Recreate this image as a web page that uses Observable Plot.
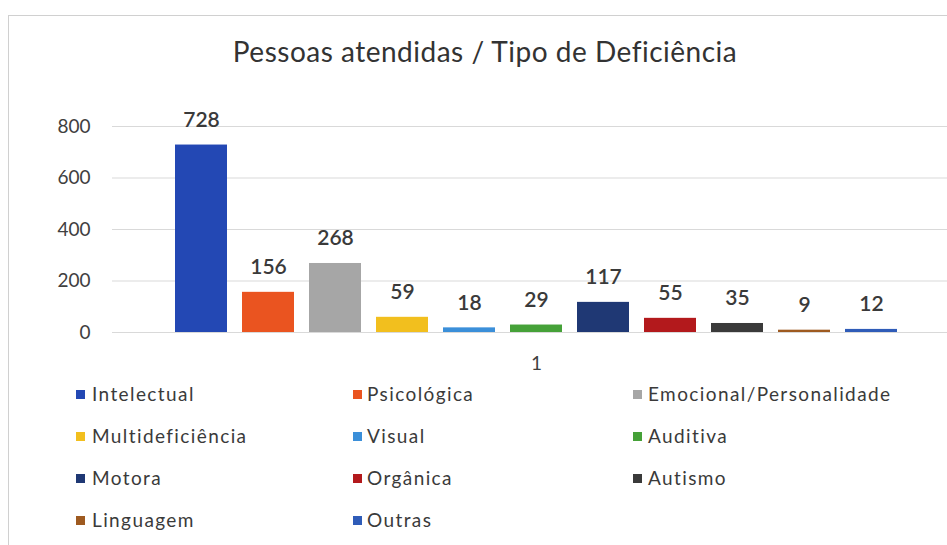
<!DOCTYPE html>
<html>
<head>
<meta charset="utf-8">
<script src="https://cdn.jsdelivr.net/npm/d3@7"></script>
<script src="https://cdn.jsdelivr.net/npm/@observablehq/plot@0.6"></script>
<style>
  html, body { margin: 0; padding: 0; background: #fff; }
  body { width: 947px; height: 545px; position: relative; overflow: hidden; font-family: Lato, "Open Sans", sans-serif; color: #404040; }
  #frame { position: absolute; left: 8px; top: 15px; width: 960px; height: 560px; border-left: 1px solid #d0d0d0; border-top: 1px solid #d0d0d0; }
  #title { position: absolute; left: 0; width: 970px; top: 34px; text-align: center; font-size: 28px; letter-spacing: 0.5px; color: #333; }
  #chart { position: absolute; left: 0; top: 100px; }
  #legend { position: absolute; left: 0; top: 383px; width: 947px; height: 160px; }
  .item { position: absolute; font-size: 19px; letter-spacing: 1.4px; color: #3a3a3a; line-height: 22px; white-space: nowrap; }
  .sw { position: absolute; width: 9px; height: 9px; }
</style>
</head>
<body>
<div id="frame"></div>
<div id="title"></div>
<div id="chart"></div>
<div id="legend"></div>
<script>
const titleText = "Pessoas atendidas / Tipo de Deficiência";
const categories = ["Intelectual", "Psicológica", "Emocional/Personalidade", "Multideficiência", "Visual", "Auditiva", "Motora", "Orgânica", "Autismo", "Linguagem", "Outras"];
const values = [728, 156, 268, 59, 18, 29, 117, 55, 35, 9, 12];
const colors = ["#2348b4", "#ea5420", "#a6a6a6", "#f2bf1e", "#3b8fd9", "#45a138", "#1f3874", "#b3191c", "#3a3a3a", "#9e5a20", "#2f5cb8"];
const yTicks = [0, 200, 400, 600, 800];
const categoryLabel = "1";

document.getElementById("title").textContent = titleText;

const data = categories.map((c, i) => ({category: c, value: values[i]}));

const plot = Plot.plot({
  width: 947,
  height: 280,
  marginLeft: 112,
  marginRight: 0,
  marginTop: 26,
  marginBottom: 48,
  style: {fontFamily: "Lato, 'Open Sans', sans-serif", fontSize: "19px", color: "#404040", background: "transparent", overflow: "visible"},
  x: {domain: categories, range: [164, 907], paddingInner: 0.23, paddingOuter: 0.115, axis: null},
  y: {domain: [0, 800], ticks: yTicks, label: null},
  color: {domain: categories, range: colors},
  marks: [
    Plot.gridY(yTicks, {stroke: "#d9d9d9", strokeOpacity: 1, strokeWidth: 1}),
    Plot.axisY(yTicks, {tickSize: 0, tickPadding: 22, fontSize: 19, label: null, fill: "#404040"}),
    Plot.barY(data, {x: "category", y: "value", fill: "category"}),
    Plot.text(data, {x: "category", y: "value", text: d => String(d.value), lineAnchor: "bottom", dy: -18, fontSize: 21, fontWeight: 600, fill: "#3a3a3a"}),
    Plot.axisX([categories[5]], {tickSize: 0, tickPadding: 24, tickFormat: () => categoryLabel, fontSize: 19, label: null, fill: "#404040"})
  ]
});
document.getElementById("chart").appendChild(plot);

// Legend: 3 columns, row-major like Excel
const colSwatchX = [76, 353, 633];
const colTextX = [92, 367, 648];
const rowY = [0, 42, 84, 126];
const legend = document.getElementById("legend");
categories.forEach((c, i) => {
  const col = i % 3, row = Math.floor(i / 3);
  const sw = document.createElement("div");
  sw.className = "sw";
  sw.style.left = colSwatchX[col] + "px";
  sw.style.top = (rowY[row] + 7) + "px";
  sw.style.background = colors[i];
  legend.appendChild(sw);
  const t = document.createElement("div");
  t.className = "item";
  t.style.left = colTextX[col] + "px";
  t.style.top = rowY[row] + "px";
  t.textContent = c;
  legend.appendChild(t);
});
</script>
</body>
</html>
